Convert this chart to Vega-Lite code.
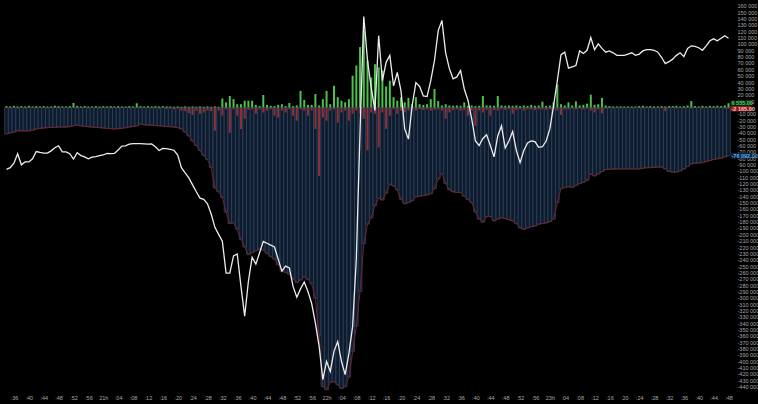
{
"$schema": "https://vega.github.io/schema/vega-lite/v6.json",
"width": 735, "height": 393,
"autosize": "none",
"padding": {"left": 0, "top": 0, "right": 23, "bottom": 11},
"background": "#000000",
"config": {
"view": {"stroke": null},
"locale": {"number": {"decimal": ".", "thousands": " ", "grouping": [3], "currency": ["", ""], "minus": "-"}},
"axis": {"labelColor": "#a8a8a8", "labelFont": "Liberation Sans", "labelFontSize": 5.5, "ticks": false, "domain": false, "grid": false, "labelOverlap": false, "labelFlush": false, "labelBound": false}
},
"datasets": {
"bars": [
{"t":1234,"g":2000,"r":-1000,"c":-42000,"w":-97600},
{"t":1235,"g":1500,"r":-1500,"c":-40000,"w":-95000},
{"t":1236,"g":2500,"r":-1000,"c":-39000,"w":-88000},
{"t":1237,"g":1500,"r":-2000,"c":-37000,"w":-73000},
{"t":1238,"g":2000,"r":-1000,"c":-37000,"w":-90500},
{"t":1239,"g":1500,"r":-1500,"c":-37000,"w":-86000},
{"t":1240,"g":2500,"r":-1000,"c":-37000,"w":-86000},
{"t":1241,"g":1500,"r":-1000,"c":-36000,"w":-81000},
{"t":1242,"g":2000,"r":-1500,"c":-34000,"w":-69500},
{"t":1243,"g":1500,"r":-1000,"c":-33000,"w":-71000},
{"t":1244,"g":2000,"r":-1000,"c":-32500,"w":-72000},
{"t":1245,"g":1500,"r":-1500,"c":-32000,"w":-72000},
{"t":1246,"g":1500,"r":-1000,"c":-31500,"w":-68500},
{"t":1247,"g":2500,"r":-1000,"c":-31500,"w":-63500},
{"t":1248,"g":2000,"r":-1500,"c":-31000,"w":-60500},
{"t":1249,"g":1500,"r":-1000,"c":-31000,"w":-70000},
{"t":1250,"g":1500,"r":-1000,"c":-31000,"w":-70000},
{"t":1251,"g":2000,"r":-1500,"c":-30500,"w":-73000},
{"t":1252,"g":7000,"r":-1000,"c":-29000,"w":-81500},
{"t":1253,"g":2500,"r":-1500,"c":-28000,"w":-71500},
{"t":1254,"g":1500,"r":-1000,"c":-29000,"w":-76000},
{"t":1255,"g":2000,"r":-1000,"c":-30000,"w":-78000},
{"t":1256,"g":1500,"r":-1500,"c":-30500,"w":-81000},
{"t":1257,"g":1500,"r":-1000,"c":-31000,"w":-78500},
{"t":1258,"g":2000,"r":-1000,"c":-31500,"w":-77500},
{"t":1259,"g":1500,"r":-1500,"c":-32000,"w":-76000},
{"t":1260,"g":2000,"r":-1000,"c":-32500,"w":-75000},
{"t":1261,"g":1500,"r":-1000,"c":-33000,"w":-72500},
{"t":1262,"g":2000,"r":-1500,"c":-33500,"w":-73000},
{"t":1263,"g":1500,"r":-1000,"c":-34000,"w":-72500},
{"t":1264,"g":2000,"r":-1500,"c":-33500,"w":-67000},
{"t":1265,"g":1500,"r":-1000,"c":-33000,"w":-61000},
{"t":1266,"g":1500,"r":-1000,"c":-32000,"w":-60500},
{"t":1267,"g":2000,"r":-1500,"c":-31000,"w":-58000},
{"t":1268,"g":1500,"r":-1000,"c":-30000,"w":-57000},
{"t":1269,"g":6500,"r":-1000,"c":-29000,"w":-57000},
{"t":1270,"g":2000,"r":-1500,"c":-26000,"w":-57000},
{"t":1271,"g":1500,"r":-1000,"c":-27500,"w":-57500},
{"t":1272,"g":2000,"r":-1000,"c":-28000,"w":-58000},
{"t":1273,"g":1500,"r":-1500,"c":-28000,"w":-57500},
{"t":1274,"g":2000,"r":-1500,"c":-28500,"w":-62000},
{"t":1275,"g":1500,"r":-2000,"c":-29000,"w":-68000},
{"t":1276,"g":2000,"r":-1000,"c":-29500,"w":-64500},
{"t":1277,"g":1500,"r":-2500,"c":-30000,"w":-65000},
{"t":1278,"g":1500,"r":-1500,"c":-30500,"w":-66000},
{"t":1279,"g":1000,"r":-3000,"c":-31000,"w":-67500},
{"t":1280,"g":1500,"r":-2000,"c":-32000,"w":-75000},
{"t":1281,"g":1000,"r":-5000,"c":-34000,"w":-95000},
{"t":1282,"g":1500,"r":-6000,"c":-39000,"w":-103000},
{"t":1283,"g":1000,"r":-9000,"c":-45000,"w":-111000},
{"t":1284,"g":1500,"r":-12000,"c":-53000,"w":-122000},
{"t":1285,"g":1000,"r":-5000,"c":-60000,"w":-133000},
{"t":1286,"g":1500,"r":-10000,"c":-68000,"w":-143000},
{"t":1287,"g":1000,"r":-8000,"c":-76000,"w":-145000},
{"t":1288,"g":1500,"r":-5000,"c":-82000,"w":-152000},
{"t":1289,"g":1000,"r":-6000,"c":-95000,"w":-168000},
{"t":1290,"g":1500,"r":-37000,"c":-127000,"w":-189000},
{"t":1291,"g":1000,"r":-5000,"c":-133000,"w":-200000},
{"t":1292,"g":14000,"r":-13000,"c":-142000,"w":-211000},
{"t":1293,"g":8000,"r":-3000,"c":-165000,"w":-261000},
{"t":1294,"g":18000,"r":-40000,"c":-183000,"w":-261000},
{"t":1295,"g":13000,"r":-3000,"c":-182000,"w":-234000},
{"t":1296,"g":5000,"r":-13000,"c":-192000,"w":-231000},
{"t":1297,"g":5000,"r":-34000,"c":-208000,"w":-282000},
{"t":1298,"g":10500,"r":-18000,"c":-220000,"w":-329000},
{"t":1299,"g":10500,"r":-4000,"c":-232000,"w":-274000},
{"t":1300,"g":10500,"r":-3000,"c":-229000,"w":-236000},
{"t":1301,"g":4000,"r":-10000,"c":-226000,"w":-247000},
{"t":1302,"g":2000,"r":-3000,"c":-223000,"w":-229000},
{"t":1303,"g":19500,"r":-8000,"c":-225000,"w":-211000},
{"t":1304,"g":4000,"r":-5000,"c":-230000,"w":-214000},
{"t":1305,"g":2600,"r":-3000,"c":-235000,"w":-217000},
{"t":1306,"g":2000,"r":-13000,"c":-239000,"w":-220000},
{"t":1307,"g":4000,"r":-16000,"c":-248000,"w":-239000},
{"t":1308,"g":5000,"r":-5000,"c":-258000,"w":-258000},
{"t":1309,"g":2000,"r":-8000,"c":-260000,"w":-250000},
{"t":1310,"g":7000,"r":-3000,"c":-263000,"w":-253000},
{"t":1311,"g":2000,"r":-13000,"c":-270000,"w":-282000},
{"t":1312,"g":3000,"r":-21000,"c":-276000,"w":-299000},
{"t":1313,"g":26000,"r":-3000,"c":-272000,"w":-286000},
{"t":1314,"g":11600,"r":-5000,"c":-267000,"w":-275000},
{"t":1315,"g":4000,"r":-13000,"c":-271000,"w":-290000},
{"t":1316,"g":4000,"r":-5000,"c":-278000,"w":-309000},
{"t":1317,"g":21000,"r":-34000,"c":-301000,"w":-340000},
{"t":1318,"g":3000,"r":-108000,"c":-360000,"w":-376000},
{"t":1319,"g":13000,"r":-16000,"c":-440000,"w":-429000},
{"t":1320,"g":26000,"r":-21000,"c":-445000,"w":-400000},
{"t":1321,"g":5000,"r":-5000,"c":-433000,"w":-416000},
{"t":1322,"g":34000,"r":-3000,"c":-432000,"w":-384000},
{"t":1323,"g":16000,"r":-24000,"c":-437000,"w":-369000},
{"t":1324,"g":10500,"r":-8000,"c":-443000,"w":-400000},
{"t":1325,"g":8000,"r":-5000,"c":-440000,"w":-421000},
{"t":1326,"g":13000,"r":-21000,"c":-425000,"w":-388000},
{"t":1327,"g":50000,"r":-10000,"c":-385000,"w":-345000},
{"t":1328,"g":66000,"r":-5000,"c":-345000,"w":-238000},
{"t":1329,"g":95000,"r":-10000,"c":-290000,"w":-37000},
{"t":1330,"g":121000,"r":-18000,"c":-215000,"w":143000},
{"t":1331,"g":74000,"r":-68000,"c":-184000,"w":74000},
{"t":1332,"g":47000,"r":-8000,"c":-174000,"w":31000},
{"t":1333,"g":68000,"r":-10000,"c":-155000,"w":-5000},
{"t":1334,"g":63000,"r":-63000,"c":-143000,"w":113000},
{"t":1335,"g":58000,"r":-8000,"c":-146000,"w":42000},
{"t":1336,"g":33000,"r":-34000,"c":-135000,"w":71000},
{"t":1337,"g":42000,"r":-13000,"c":-121000,"w":82000},
{"t":1338,"g":16000,"r":-3000,"c":-124000,"w":34000},
{"t":1339,"g":10500,"r":-10000,"c":-130000,"w":55000},
{"t":1340,"g":16000,"r":-5000,"c":-145000,"w":26000},
{"t":1341,"g":8000,"r":-8000,"c":-152000,"w":-34000},
{"t":1342,"g":15000,"r":-5000,"c":-150000,"w":-50000},
{"t":1343,"g":5000,"r":-3000,"c":-147000,"w":3000},
{"t":1344,"g":16000,"r":-5000,"c":-141000,"w":39000},
{"t":1345,"g":5000,"r":-3000,"c":-140000,"w":33000},
{"t":1346,"g":4000,"r":-4000,"c":-139000,"w":18000},
{"t":1347,"g":5000,"r":-3000,"c":-138000,"w":17000},
{"t":1348,"g":13000,"r":-5000,"c":-136000,"w":42000},
{"t":1349,"g":29000,"r":-4000,"c":-128000,"w":74000},
{"t":1350,"g":10000,"r":-3000,"c":-113000,"w":121000},
{"t":1351,"g":3000,"r":-5000,"c":-104000,"w":137000},
{"t":1352,"g":5000,"r":-18000,"c":-120000,"w":86000},
{"t":1353,"g":3000,"r":-8000,"c":-130000,"w":61000},
{"t":1354,"g":2500,"r":-4000,"c":-133000,"w":45000},
{"t":1355,"g":3000,"r":-3000,"c":-134000,"w":48000},
{"t":1356,"g":2500,"r":-5000,"c":-134000,"w":58000},
{"t":1357,"g":8000,"r":-4000,"c":-140000,"w":29000},
{"t":1358,"g":2500,"r":-13000,"c":-145000,"w":11000},
{"t":1359,"g":3000,"r":-5000,"c":-150000,"w":-18000},
{"t":1360,"g":2000,"r":-29000,"c":-165000,"w":-53000},
{"t":1361,"g":2500,"r":-5000,"c":-176000,"w":-60000},
{"t":1362,"g":18000,"r":-8000,"c":-181000,"w":-49000},
{"t":1363,"g":3000,"r":-4000,"c":-172000,"w":-43000},
{"t":1364,"g":3000,"r":-13000,"c":-172000,"w":-60000},
{"t":1365,"g":2500,"r":-4000,"c":-179000,"w":-78000},
{"t":1366,"g":18000,"r":-5000,"c":-176000,"w":-45000},
{"t":1367,"g":3000,"r":-3000,"c":-174000,"w":-29000},
{"t":1368,"g":2500,"r":-4000,"c":-175000,"w":-64000},
{"t":1369,"g":3000,"r":-3000,"c":-177000,"w":-53000},
{"t":1370,"g":2500,"r":-10000,"c":-179000,"w":-38000},
{"t":1371,"g":3000,"r":-4000,"c":-183000,"w":-68000},
{"t":1372,"g":2000,"r":-3000,"c":-190000,"w":-87000},
{"t":1373,"g":3000,"r":-5000,"c":-192000,"w":-68000},
{"t":1374,"g":2500,"r":-3000,"c":-190000,"w":-56000},
{"t":1375,"g":4000,"r":-3000,"c":-188000,"w":-53000},
{"t":1376,"g":2500,"r":-4000,"c":-187000,"w":-54000},
{"t":1377,"g":3000,"r":-3000,"c":-184000,"w":-63000},
{"t":1378,"g":9000,"r":-3000,"c":-183000,"w":-62000},
{"t":1379,"g":2500,"r":-4000,"c":-182000,"w":-53000},
{"t":1380,"g":3000,"r":-3000,"c":-180000,"w":-34000},
{"t":1381,"g":8000,"r":-3000,"c":-176000,"w":3000},
{"t":1382,"g":36000,"r":-5000,"c":-150000,"w":42000},
{"t":1383,"g":5000,"r":-12000,"c":-128000,"w":83000},
{"t":1384,"g":3000,"r":-3000,"c":-126000,"w":87000},
{"t":1385,"g":8000,"r":-3000,"c":-125000,"w":62000},
{"t":1386,"g":3000,"r":-2000,"c":-126000,"w":64000},
{"t":1387,"g":9500,"r":-3000,"c":-123000,"w":66000},
{"t":1388,"g":3000,"r":-2000,"c":-120000,"w":89000},
{"t":1389,"g":4000,"r":-3000,"c":-118000,"w":85000},
{"t":1390,"g":6000,"r":-2000,"c":-115000,"w":90000},
{"t":1391,"g":20000,"r":-5000,"c":-105000,"w":110000},
{"t":1392,"g":4000,"r":-8000,"c":-108000,"w":91000},
{"t":1393,"g":5000,"r":-3000,"c":-105000,"w":100000},
{"t":1394,"g":15000,"r":-9500,"c":-101000,"w":93000},
{"t":1395,"g":3000,"r":-2000,"c":-98000,"w":87000},
{"t":1396,"g":2000,"r":-1500,"c":-97500,"w":89000},
{"t":1397,"g":1500,"r":-1500,"c":-97000,"w":86000},
{"t":1398,"g":1500,"r":-1000,"c":-97000,"w":82000},
{"t":1399,"g":1500,"r":-1500,"c":-97000,"w":82000},
{"t":1400,"g":1500,"r":-1000,"c":-97000,"w":82000},
{"t":1401,"g":1500,"r":-1000,"c":-97000,"w":84000},
{"t":1402,"g":1500,"r":-1500,"c":-97000,"w":86000},
{"t":1403,"g":1500,"r":-1000,"c":-97000,"w":82000},
{"t":1404,"g":2000,"r":-1000,"c":-97000,"w":84000},
{"t":1405,"g":2500,"r":-1500,"c":-96000,"w":89000},
{"t":1406,"g":1500,"r":-1000,"c":-95000,"w":91000},
{"t":1407,"g":2000,"r":-1000,"c":-95000,"w":91000},
{"t":1408,"g":1500,"r":-1500,"c":-94500,"w":90000},
{"t":1409,"g":1500,"r":-1000,"c":-94000,"w":87000},
{"t":1410,"g":2000,"r":-1500,"c":-94000,"w":79000},
{"t":1411,"g":1500,"r":-6000,"c":-97000,"w":69000},
{"t":1412,"g":2000,"r":-1500,"c":-101000,"w":72000},
{"t":1413,"g":2000,"r":-1000,"c":-102000,"w":76000},
{"t":1414,"g":2500,"r":-1500,"c":-102000,"w":82000},
{"t":1415,"g":1500,"r":-1000,"c":-100000,"w":86000},
{"t":1416,"g":2000,"r":-1500,"c":-97000,"w":80000},
{"t":1417,"g":3000,"r":-1000,"c":-93000,"w":93000},
{"t":1418,"g":10000,"r":-1500,"c":-89000,"w":97000},
{"t":1419,"g":2000,"r":-1000,"c":-88000,"w":96000},
{"t":1420,"g":1500,"r":-1000,"c":-87500,"w":94000},
{"t":1421,"g":2500,"r":-1500,"c":-87000,"w":90000},
{"t":1422,"g":1500,"r":-1000,"c":-85000,"w":97000},
{"t":1423,"g":2500,"r":-1000,"c":-84000,"w":105000},
{"t":1424,"g":2000,"r":-1500,"c":-82000,"w":108000},
{"t":1425,"g":2500,"r":-1000,"c":-81000,"w":105000},
{"t":1426,"g":2000,"r":-1000,"c":-80000,"w":109000},
{"t":1427,"g":3000,"r":-1500,"c":-78000,"w":113000},
{"t":1428,"g":6555,"r":-2165,"c":-76092,"w":109000}
],
"last": [
{"t":1428,"v":6555,"s":"6 555.00","k":"buy"},
{"t":1428,"v":-2165,"s":"-2 165.00","k":"sell"},
{"t":1428,"v":-76092,"s":"-76 092.00","k":"cum"}
]
},
"layer": [
{
"data": {"name": "bars"},
"mark": {"type": "bar", "size": 3.78, "fill": "#0f1b2c", "stroke": "#3f5c7c", "strokeWidth": 0.5},
"encoding": {
"x": {"field": "t", "type": "quantitative", "title": null, "scale": {"domain": [1233.6, 1428.4], "nice": false, "zero": false},
"axis": {"labelOverlap": false, "tickCount": 200, "values": [1236,1240,1244,1248,1252,1256,1260,1264,1268,1272,1276,1280,1284,1288,1292,1296,1300,1304,1308,1312,1316,1320,1324,1328,1332,1336,1340,1344,1348,1352,1356,1360,1364,1368,1372,1376,1380,1384,1388,1392,1396,1400,1404,1408,1412,1416,1420,1424,1428],
"labelExpr": "datum.value % 60 == 0 ? floor(datum.value / 60) + 'h' : ':' + (datum.value % 60 < 10 ? '0' : '') + (datum.value % 60)", "labelPadding": 2}},
"y": {"field": "c", "type": "quantitative", "title": null, "scale": {"domain": [-450000, 169200], "nice": false, "zero": false},
"axis": {"orient": "right", "labelOverlap": false, "tickCount": 200, "format": ",d", "labelPadding": 2, "values": [160000,150000,140000,130000,120000,110000,100000,90000,80000,70000,60000,50000,40000,30000,20000,10000,0,-10000,-20000,-30000,-40000,-50000,-60000,-70000,-80000,-90000,-100000,-110000,-120000,-130000,-140000,-150000,-160000,-170000,-180000,-190000,-200000,-210000,-220000,-230000,-240000,-250000,-260000,-270000,-280000,-290000,-300000,-310000,-320000,-330000,-340000,-350000,-360000,-370000,-380000,-390000,-400000,-410000,-420000,-430000,-440000]}}
}
},
{
"data": {"name": "bars"},
"mark": {"type": "bar", "size": 2, "color": "#8c3038"},
"encoding": {"x": {"field": "t", "type": "quantitative", "title": null}, "y": {"field": "r", "type": "quantitative", "title": null}}
},
{
"data": {"name": "bars"},
"mark": {"type": "bar", "size": 2, "color": "#4cc24c"},
"encoding": {"x": {"field": "t", "type": "quantitative", "title": null}, "y": {"field": "g", "type": "quantitative", "title": null}}
},
{
"data": {"name": "bars"},
"mark": {"type": "line", "color": "#74242c", "strokeWidth": 1},
"encoding": {"x": {"field": "t", "type": "quantitative", "title": null}, "y": {"field": "c", "type": "quantitative", "title": null}}
},
{
"data": {"name": "bars"},
"mark": {"type": "line", "color": "#ececec", "strokeWidth": 1.3},
"encoding": {"x": {"field": "t", "type": "quantitative", "title": null}, "y": {"field": "w", "type": "quantitative", "title": null}}
},
{
"data": {"name": "last"},
"mark": {"type": "point", "shape": "M0,-0.13L1,-0.13L1,0.13L0,0.13Z", "filled": true, "size": 1764, "xOffset": 2, "opacity": 1, "strokeWidth": 0},
"encoding": {
"x": {"field": "t", "type": "quantitative", "title": null},
"y": {"field": "v", "type": "quantitative", "title": null},
"fill": {"field": "k", "type": "nominal", "legend": null, "scale": {"domain": ["buy", "sell", "cum"], "range": ["#0c2a0e", "#8a1e22", "#0c2440"]}}
}
},
{
"data": {"name": "last"},
"mark": {"type": "text", "align": "left", "baseline": "middle", "dx": 3, "fontSize": 5.5, "font": "Liberation Sans", "fontWeight": "bold"},
"encoding": {
"x": {"field": "t", "type": "quantitative", "title": null},
"y": {"field": "v", "type": "quantitative", "title": null},
"text": {"field": "s"},
"color": {"field": "k", "type": "nominal", "legend": null, "scale": {"domain": ["buy", "sell", "cum"], "range": ["#5ad25a", "#f4c8c8", "#62aaf0"]}}
}
}
]
}
